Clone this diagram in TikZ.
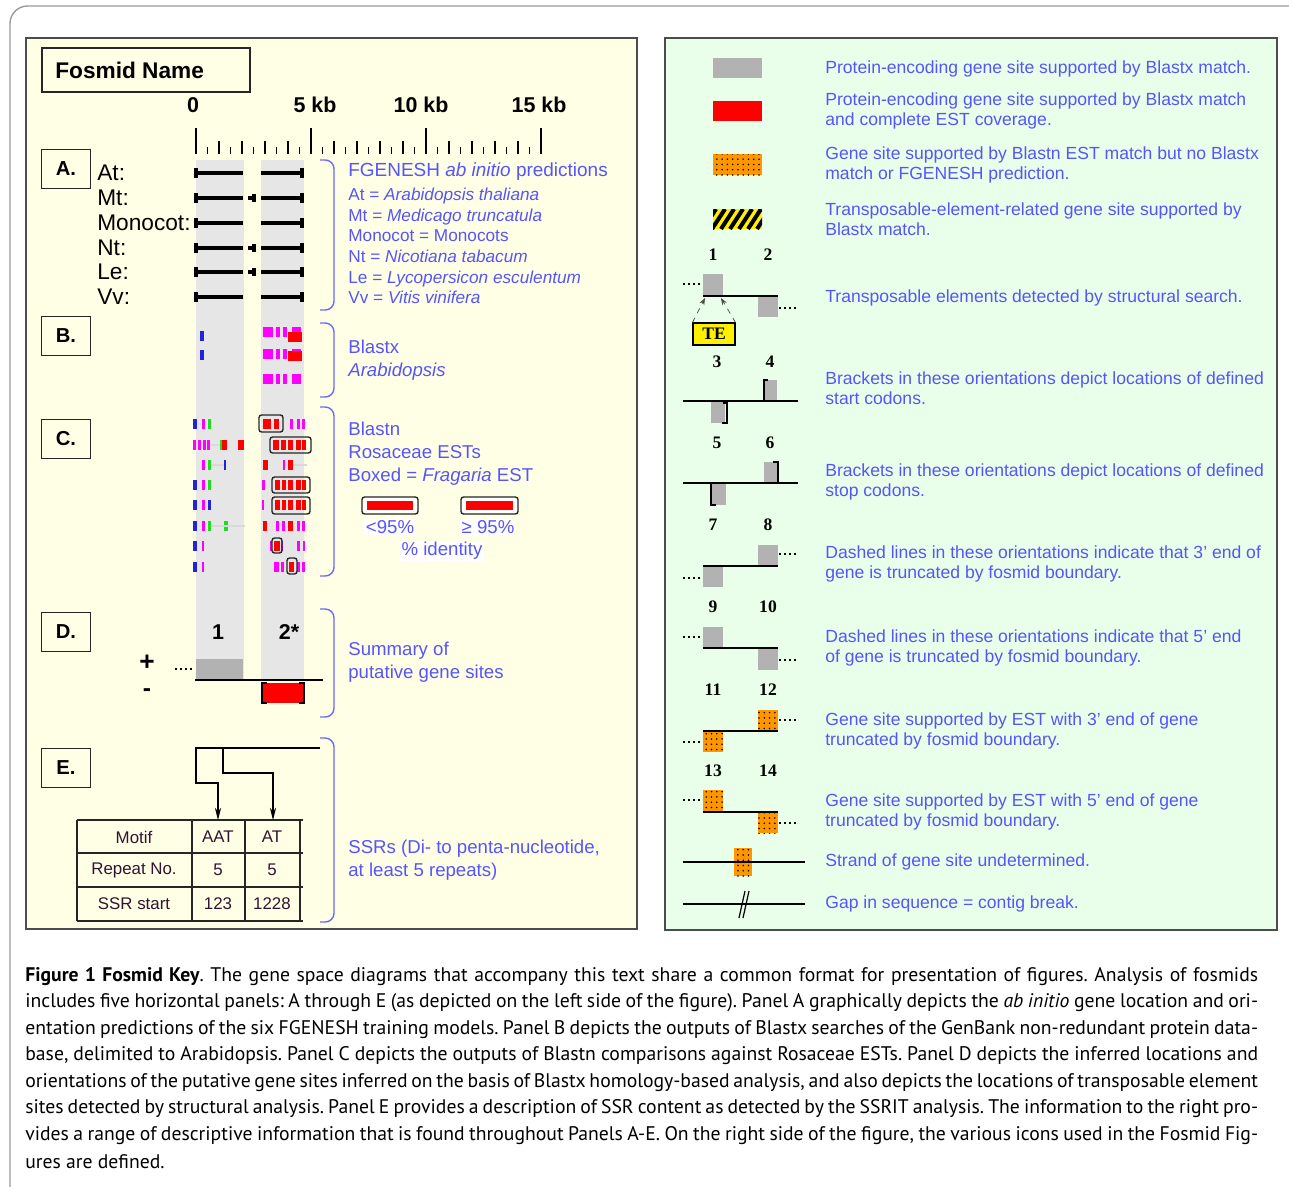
\documentclass[tikz,border=0pt]{standalone}
\usepackage{fontspec}
\setmainfont{Liberation Sans}
\newfontfamily\capfont{PT Sans}
\newfontfamily\numfont{Liberation Serif}
\usetikzlibrary{arrows.meta,patterns,positioning}
\definecolor{keyblue}{RGB}{85,85,250}
\definecolor{braceblue}{RGB}{105,105,255}
\definecolor{leftpane}{RGB}{255,255,230}
\definecolor{rightpane}{RGB}{233,255,233}
\definecolor{bandgray}{RGB}{230,230,230}
\definecolor{sitegray}{RGB}{178,178,178}
\definecolor{estorange}{RGB}{255,150,0}
\definecolor{hitred}{RGB}{255,0,0}
\definecolor{hitmag}{RGB}{255,0,255}
\definecolor{hitblue}{RGB}{35,35,215}
\definecolor{hitgreen}{RGB}{30,220,30}
\definecolor{tabink}{RGB}{50,20,50}
\definecolor{teyellow}{RGB}{255,240,0}
\frenchspacing

\tikzset{
  pane/.style={draw=black!70, line width=0.8pt},
  paneltag/.style={draw=black!85, line width=0.7pt, minimum width=0.98cm, minimum height=0.78cm,
                   inner sep=0pt, font=\fontsize{11.5}{13}\selectfont\bfseries},
  keytext/.style={anchor=west, inner sep=0pt, align=left, text=keyblue, font=\fontsize{10}{11.34}\selectfont},
  lefttext/.style={anchor=west, inner sep=0pt, align=left, text=keyblue, font=\fontsize{10.6}{13}\selectfont},
  rowlabel/.style={anchor=west, inner sep=0pt, font=\fontsize{12.9}{14}\selectfont},
  scalelabel/.style={inner sep=0pt, font=\fontsize{12.2}{14}\selectfont\bfseries},
  brace/.style={draw=braceblue, line width=0.8pt, rounded corners=5pt},
  gene/.style={line width=2.6pt},
  strand/.style={line width=1.4pt},
  trunc/.style={line width=1.3pt, dash pattern=on 1.3pt off 1.5pt},
  codon/.style={line width=0.8pt},
  iconnum/.style={inner sep=0pt, font=\numfont\fontsize{10}{12}\selectfont\bfseries},
  estsite/.style={preaction={fill=estorange}, pattern=dots, pattern color=black},
  estbox/.style={draw=black!85, line width=0.8pt, rounded corners=1.5pt},
  cell/.style={inner sep=0pt, text=tabink, font=\fontsize{9.6}{11}\selectfont},
  ssrarrow/.style={line width=0.6pt, -{Stealth[length=7pt,width=3.5pt]}},
  tearrow/.style={line width=0.4pt, black!70, dashed, -{Stealth[length=4pt,width=3pt]}},
  capline/.style={anchor=west, inner sep=0pt, font=\capfont\fontsize{11.2}{13}\selectfont}
}

\begin{document}
\begin{tikzpicture}[x=0.02cm, y=-0.02cm]
\useasboundingbox (0,0) rectangle (1289,1187);
\draw[black!40, line width=0.8pt, rounded corners=10pt] (10,1200) -- (10,6) -- (1300,6);

% the two panels
\filldraw[pane, fill=leftpane] (26,38) rectangle (637,929);
\filldraw[pane, fill=rightpane] (665,38) rectangle (1277,930);

% ---- left panel: header and scale
\draw[draw=black!85, line width=0.8pt] (42,48) rectangle (250,92);
\node[anchor=west, inner sep=0pt, font=\fontsize{12.9}{15}\selectfont\bfseries] (fname) at (55,70) {Fosmid Name};
\node[scalelabel] (kb0) at (193,105) {0};
\node[scalelabel] (kb5) at (315,105) {5 kb};
\node[scalelabel] (kb10) at (421,105) {10 kb};
\node[scalelabel] (kb15) at (539,105) {15 kb};
\foreach \i in {0,...,30} {
  \pgfmathsetmacro\tk{mod(\i,10)==0 ? 128 : (mod(\i,2)==1 ? 147 : 141)}
  \draw[line width=0.8pt] (196+11.5*\i,\tk) -- (196+11.5*\i,154);
}
\fill[bandgray] (196,160) rectangle (244,680);
\fill[bandgray] (261,160) rectangle (304,680);

% panel tags
\node[paneltag] (tagA) at (66,169) {A.};
\node[paneltag] (tagB) at (66,336) {B.};
\node[paneltag] (tagC) at (66,439) {C.};
\node[paneltag] (tagD) at (66,632) {D.};
\node[paneltag] (tagE) at (66,768) {E.};

% braces
\foreach \a/\b in {160/310, 323/397, 407/576, 609/717, 738/922}
  \draw[brace] (320,\a) -- (334,\a) -- (334,\b) -- (320,\b);

% A: FGENESH predictions
\foreach \lab/\y/\m in {At:/173/0, Mt:/198/1, Monocot:/223/0, Nt:/248/1, Le:/272/1, Vv:/297/0} {
  \node[rowlabel] (row\y) at (97,\y) {\lab};
  \draw[gene] (196,\y-5) -- (196,\y+5) (196,\y) -- (243,\y) (261,\y) -- (302,\y) (302,\y-5) -- (302,\y+5);
  \ifnum\m=1 \draw[gene] (248,\y) -- (254,\y) (254,\y-4) -- (254,\y+4); \fi
}
\node[lefttext, font=\fontsize{10.8}{13}\selectfont] (fgenesh) at (348,172) {FGENESH \textit{ab initio} predictions};
\node[keytext, font=\fontsize{9.8}{11.8}\selectfont] (models) at (348,246)
  {At = \textit{Arabidopsis thaliana}\\Mt = \textit{Medicago truncatula}\\Monocot = Monocots\\
   Nt = \textit{Nicotiana tabacum}\\Le = \textit{Lycopersicon esculentum}\\Vv = \textit{Vitis vinifera}};

% B and C: Blastx and Blastn hits
\foreach \c/\xa/\xb/\y in {
  hitblue/200/204/336, hitblue/200/204/355,
  hitmag/263/273/332, hitmag/276/280/332, hitmag/283/287/332, hitmag/292/301/332,
  hitmag/263/273/354, hitmag/276/280/354, hitmag/283/287/354, hitmag/292/301/354,
  hitmag/263/273/379, hitmag/276/280/379, hitmag/283/287/379, hitmag/292/301/379,
  hitred/288/302/337, hitred/288/302/356,
  hitblue/193/197/424, hitmag/202/205/424, hitgreen/208/211/424, hitred/263/271/424, hitred/274/279/424,
  hitmag/290/293/424, hitmag/297/300/424, hitmag/302/305/424,
  hitmag/193/196/445, hitmag/198/201/445, hitmag/203/206/445, hitmag/207/210/445, hitgreen/220/222/445,
  hitred/222/227/445, hitred/238/244/445, hitred/273/279/445, hitred/281/286/445, hitred/288/293/445,
  hitred/296/301/445, hitred/302/306/445,
  hitmag/202/205/465, hitgreen/208/211/465, hitblue/224/226/465, hitred/263/268/465, hitmag/283/285/465,
  hitred/288/293/465,
  hitblue/193/197/485, hitmag/202/205/485, hitgreen/208/211/485, hitmag/262/265/485, hitred/275/280/485,
  hitred/282/286/485, hitred/288/293/485, hitred/296/301/485, hitred/302/306/485,
  hitblue/193/197/505, hitmag/202/205/505, hitblue/208/211/505, hitmag/262/264/505, hitred/275/280/505,
  hitred/282/286/505, hitred/288/293/505, hitred/296/301/505, hitred/302/306/505,
  hitblue/193/197/526, hitmag/202/205/526, hitgreen/208/211/526, hitgreen/224/228/526, hitred/263/267/526,
  hitmag/276/279/526, hitmag/282/285/526, hitred/288/293/526, hitmag/297/300/526, hitmag/302/305/526,
  hitblue/193/197/546, hitmag/202/204/546, hitmag/270/272/546, hitred/274/280/546, hitmag/281/283/546,
  hitmag/297/300/546, hitmag/303/305/546,
  hitblue/193/197/567, hitmag/202/204/567, hitmag/274/279/567, hitmag/281/284/567, hitred/289/294/567,
  hitmag/297/300/567, hitmag/302/305/567}
  \fill[\c] (\xa,\y-5) rectangle (\xb,\y+5);
\draw[black!15, line width=0.6pt] (211,445) -- (220,445) (211,465) -- (224,465) (293,465) -- (307,465) (211,526) -- (245,526);
\foreach \xa/\ya/\xb/\yb in {259/415/283/432, 270/437/311/453, 272/477/310/493, 272/497/310/514, 272/538/282/553, 287/558/297/574}
  \draw[estbox] (\xa,\ya) rectangle (\xb,\yb);
\node[lefttext] (blastx) at (348,360.5) {Blastx\\\textit{Arabidopsis}};
\node[lefttext] (blastn) at (348,454) {Blastn\\Rosaceae ESTs\\Boxed = \textit{Fragaria} EST};
\filldraw[estbox, fill=white] (362,497) rectangle (418,514);
\fill[hitred] (367,501) rectangle (413,510);
\filldraw[estbox, fill=white] (461,497) rectangle (518,514);
\fill[hitred] (466,501) rectangle (513,510);
\node[fill=white, inner sep=1pt, text=keyblue, font=\fontsize{10.6}{12}\selectfont] (lowid) at (390,527) {<95\%};
\node[fill=white, inner sep=1pt, text=keyblue, font=\fontsize{10.6}{12}\selectfont] (highid) at (488,527) {≥ 95\%};
\node[fill=white, inner sep=1pt, text=keyblue, font=\fontsize{10.6}{12}\selectfont] (pctid) at (442,551) {\% identity};

% D: summary of gene sites
\node[scalelabel] (site1) at (218,632) {1};
\node[scalelabel] (site2) at (289,632) {2*};
\node[inner sep=0pt, font=\fontsize{15}{16}\selectfont\bfseries] (plus) at (147,663) {+};
\node[inner sep=0pt, font=\fontsize{14}{15}\selectfont\bfseries] (minus) at (147,693) {-};
\fill[sitegray] (196,659) rectangle (243,680);
\fill[hitred] (262,683) rectangle (304,703);
\draw[codon] (267,683) -- (262,683) -- (262,703) -- (267,703);
\draw[codon] (299,683) -- (304,683) -- (304,703) -- (299,703);
\draw[strand] (195,680) -- (323,680);
\draw[trunc] (175,669) -- (194,669);
\node[lefttext] (summary) at (348,662.5) {Summary of\\putative gene sites};

% E: SSR table
\draw[strand] (195,748) -- (320,748);
\foreach \y in {820,853,887,921} \draw[line width=0.8pt, black!85] (77,\y) -- (303,\y);
\foreach \x in {77,192,245,300} \draw[line width=0.8pt, black!85] (\x,820) -- (\x,921);
\node[cell] (motif) at (134,837) {Motif};
\node[cell] (aat) at (218,837) {AAT};
\node[cell] (at) at (272,837) {AT};
\node[cell] (repno) at (134,870) {Repeat No.};
\node[cell] (rep1) at (218,870) {5};
\node[cell] (rep2) at (272,870) {5};
\node[cell] (ssrst) at (134,904) {SSR start};
\node[cell] (st1) at (218,904) {123};
\node[cell] (st2) at (272,904) {1228};
\coordinate (ssra) at (196,748);
\coordinate (ssrb) at (223,748);
\coordinate (aattop) at (218,820);
\coordinate (attop) at (273,820);
\draw[ssrarrow] (ssra) -- ++(0,35) -| (aattop);
\draw[ssrarrow] (ssrb) -- ++(0,25) -| (attop);
\node[lefttext] (ssrs) at (348,860.5) {SSRs (Di- to penta-nucleotide,\\at least 5 repeats)};

% ---- right panel: icon key
\fill[sitegray] (713,58) rectangle (762,78);
\fill[hitred] (713,101) rectangle (762,121);
\fill[estsite] (713,154) rectangle (762,175);
\begin{scope}
  \clip (713,209) rectangle (762,229);
  \fill[teyellow] (713,209) rectangle (762,229);
  \foreach \s in {-2,...,6} \draw[line width=2.3pt] (703+9*\s,229) -- (716+9*\s,209);
\end{scope}

\foreach \n/\x/\y in {1/713/255, 2/768/255, 3/717/362, 4/770/362, 5/717/443, 6/770/443, 7/713/525, 8/768/525,
                      9/713/607, 10/768/607, 11/713/690, 12/768/690, 13/713/771, 14/768/771}
  \node[iconnum] (icon\n) at (\x,\y) {\n};

% 1, 2 with TE
\fill[sitegray] (703,274) rectangle (723,296);
\fill[sitegray] (758,296) rectangle (778,317);
\draw[strand] (703,296) -- (778,296);
\draw[trunc] (683,284) -- (702,284);
\draw[trunc] (779,308) -- (798,308);
\node[draw, line width=0.6pt, fill=teyellow, minimum width=0.84cm, minimum height=0.44cm, inner sep=0pt,
      font=\numfont\fontsize{10}{12}\selectfont\bfseries] (te) at (714,334) {TE};
\coordinate (tel) at (705,298);
\coordinate (ter) at (721,298);
\draw[tearrow] (te.north west) -- (tel);
\draw[tearrow] (te.north east) -- (ter);

% 3, 4 start codons
\fill[sitegray] (711,402) rectangle (725,423);
\fill[sitegray] (764,380) rectangle (777,401);
\draw[strand] (683,401) -- (798,401);
\draw[codon] (723,403) -- (727,403) -- (727,423) -- (722,423);
\draw[codon] (768,380) -- (764,380) -- (764,401);

% 5, 6 stop codons
\fill[sitegray] (711,484) rectangle (726,505);
\fill[sitegray] (764,462) rectangle (777,483);
\draw[strand] (683,483) -- (798,483);
\draw[codon] (711,484) -- (711,505) -- (716,505);
\draw[codon] (773,462) -- (778,462) -- (778,483);

% 7, 8
\fill[sitegray] (703,567) rectangle (723,587);
\fill[sitegray] (758,545) rectangle (778,566);
\draw[strand] (703,566) -- (778,566);
\draw[trunc] (683,578) -- (702,578);
\draw[trunc] (779,554) -- (798,554);

% 9, 10
\fill[sitegray] (703,627) rectangle (723,648);
\fill[sitegray] (758,649) rectangle (778,670);
\draw[strand] (703,648) -- (778,648);
\draw[trunc] (683,637) -- (702,637);
\draw[trunc] (779,660) -- (798,660);

% 11, 12
\fill[estsite] (758,710) rectangle (778,731);
\fill[estsite] (703,732) rectangle (723,752);
\draw[strand] (703,731) -- (778,731);
\draw[trunc] (779,720) -- (798,720);
\draw[trunc] (683,742) -- (702,742);

% 13, 14
\fill[estsite] (703,790) rectangle (723,811);
\fill[estsite] (758,813) rectangle (778,833);
\draw[strand] (703,812) -- (778,812);
\draw[trunc] (683,800) -- (702,800);
\draw[trunc] (779,823) -- (798,823);

% strand undetermined, contig break
\fill[estsite] (734,848) rectangle (752,876);
\draw[strand] (683,862) -- (805,862);
\draw[strand] (683,904) -- (805,904);
\draw[line width=0.7pt] (739,918) -- (745,891) (743,918) -- (749,891);

\node[keytext] (key1) at (825,69) {Protein-encoding gene site supported by Blastx match.};
\node[keytext] (key2) at (825,111) {Protein-encoding gene site supported by Blastx match\\and complete EST coverage.};
\node[keytext] (key3) at (825,165) {Gene site supported by Blastn EST\ match but no Blastx\\match or FGENESH prediction.};
\node[keytext] (key4) at (825,219) {Transposable-element-related gene site supported by\\Blastx match.};
\node[keytext] (key5) at (825,298) {Transposable elements detected by structural search.};
\node[keytext] (key6) at (825,388) {Brackets in these orientations depict locations of defined\\start codons.};
\node[keytext] (key7) at (825,482) {Brackets in these orientations depict locations of defined\\stop codons.};
\node[keytext] (key8) at (825,564) {Dashed lines in these orientations indicate that 3' end of\\gene is truncated by fosmid boundary.};
\node[keytext] (key9) at (825,648) {Dashed lines in these orientations indicate that 5' end\\of gene is truncated by fosmid boundary.};
\node[keytext] (key10) at (825,730.5) {Gene site supported by EST\ with 3' end of gene\\truncated by fosmid boundary.};
\node[keytext] (key11) at (825,811.5) {Gene site supported by EST\ with 5' end of gene\\truncated by fosmid boundary.};
\node[keytext] (key12) at (825,862) {Strand of gene site undetermined.};
\node[keytext] (key13) at (825,904) {Gap in sequence = contig break.};

% caption
\node[capline] (cap1) at (25,977) {\makebox[24.66cm][s]{\textbf{Figure 1 Fosmid Key}. The gene space diagrams that accompany this text share a common format for presentation of figures. Analysis of fosmids}};
\node[capline] (cap2) at (25,1003) {\makebox[24.66cm][s]{includes five horizontal panels: A through E (as depicted on the left side of the figure). Panel A graphically depicts the \textit{ab initio} gene location and ori-}};
\node[capline] (cap3) at (25,1030) {\makebox[24.66cm][s]{entation predictions of the six FGENESH training models. Panel B depicts the outputs of Blastx searches of the GenBank non-redundant protein data-}};
\node[capline] (cap4) at (25,1056) {\makebox[24.66cm][s]{base, delimited to Arabidopsis. Panel C depicts the outputs of Blastn comparisons against Rosaceae ESTs. Panel D depicts the inferred locations and}};
\node[capline] (cap5) at (25,1083) {\makebox[24.66cm][s]{orientations of the putative gene sites inferred on the basis of Blastx homology-based analysis, and also depicts the locations of transposable element}};
\node[capline] (cap6) at (25,1109) {\makebox[24.66cm][s]{sites detected by structural analysis. Panel E provides a description of SSR content as detected by the SSRIT analysis. The information to the right pro-}};
\node[capline] (cap7) at (25,1136) {\makebox[24.66cm][s]{vides a range of descriptive information that is found throughout Panels A-E. On the right side of the figure, the various icons used in the Fosmid Fig-}};
\node[capline] (cap8) at (25,1162) {ures are defined.};
\end{tikzpicture}
\end{document}
